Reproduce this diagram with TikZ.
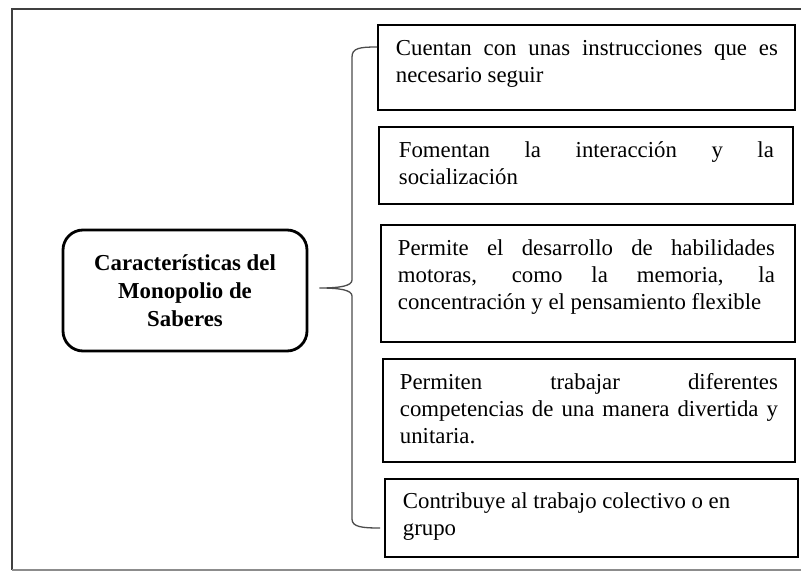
\documentclass[tikz,border=0pt]{standalone}
\usepackage{fontspec}
\setmainfont{Liberation Serif}
\usetikzlibrary{calc}
\newcommand{\itemtext}[5]{\parbox[c][#2pt][t]{#1pt}{\fontsize{22.8}{27}\selectfont\leftskip=#3pt\rightskip=#4pt\parfillskip=0pt plus 1fil\rule{0pt}{31pt}#5}}
\newcommand{\itemrag}[4]{\parbox[c][#2pt][t]{#1pt}{\fontsize{22.8}{27}\selectfont\raggedright\leftskip=#3pt\rule{0pt}{30pt}#4}}
\begin{document}
\begin{tikzpicture}[x=1pt,y=-1pt,
  itembox/.style={draw=black, line width=1.8pt, inner sep=0pt, anchor=north west},
  mainbox/.style={draw=black, line width=2.8pt, rounded corners=20pt, minimum width=244pt, minimum height=121pt, align=center, inner sep=0pt, font=\fontsize{22.8}{28}\selectfont\bfseries},
  framestyle/.style={draw=black!75, line width=2.4pt},
  bracestyle/.style={draw=black!70, line width=1.3pt}]
\useasboundingbox (0,0) rectangle (801,572);
\clip (0,0) rectangle (801,572);
\fill[white] (0,0) rectangle (801,572);
% frame
\draw[framestyle] (810,9) -- (12,9) -- (12,570);
\draw[draw=black!45, line width=1.5pt] (12,570) -- (810,570);
% main
\node[mainbox] (main) at (185,290.5) {Características del\\Monopolio de\\Saberes};
% items
\node[itembox] (b1) at (377,24) {\itemtext{417}{85}{18}{17}{Cuentan con unas instrucciones que es\linebreak necesario seguir}};
\node[itembox] (b2) at (378,126) {\itemtext{414}{77}{20}{19}{Fomentan la interacción y la\linebreak socialización}};
\node[itembox] (b3) at (380,224) {\itemtext{414}{117}{17}{20}{Permite el desarrollo de habilidades\linebreak motoras, como la memoria, la\linebreak concentración y el pensamiento flexible}};
\node[itembox] (b4) at (382,358) {\itemtext{412}{103}{17}{17}{Permiten trabajar diferentes\linebreak competencias de una manera divertida y\linebreak unitaria.}};
\node[itembox] (b5) at (384,478) {\itemrag{413}{78}{18}{Contribuye al trabajo colectivo o en\\grupo}};
% brace
\coordinate (bt) at ($(b1.north west)+(0,23)$);
\coordinate (bb) at ($(b5.north west)+(-4,50)$);
\coordinate (tip) at ($(main.east)+(11,-2.5)$);
\draw[bracestyle] (bt) .. controls (360,47) and (352,48) .. (352,57) -- (352,280)
  .. controls (352,286) and (340,288) .. (tip)
  .. controls (340,288) and (352,290) .. (352,296) -- (352,519)
  .. controls (352,527) and (362,528) .. (bb);
\end{tikzpicture}
\end{document}
